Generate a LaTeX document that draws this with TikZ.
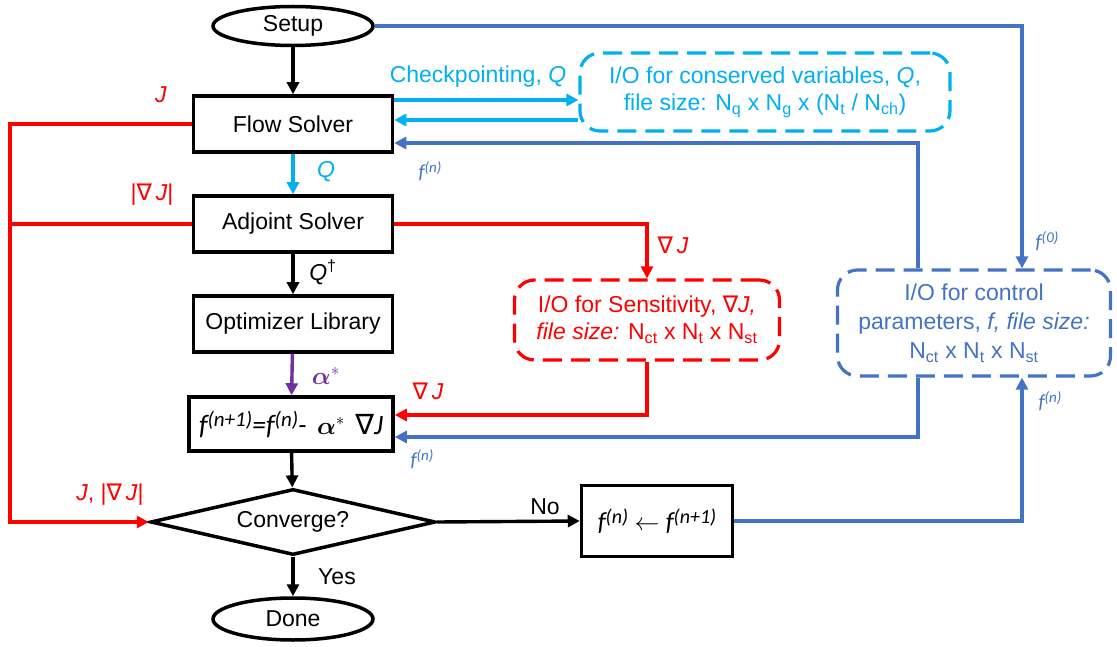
\documentclass[tikz,border=0pt]{standalone}
\usepackage{fontspec}
\usepackage{bm}
\setmainfont{Liberation Sans}
\newfontfamily\carl{Carlito}
\newfontfamily\dvs{DejaVu Sans}
\usetikzlibrary{shapes.geometric,arrows.meta}
\definecolor{cy}{HTML}{00B0F0}
\definecolor{bl}{HTML}{4472C4}
\definecolor{pu}{HTML}{7030A0}
\definecolor{rd}{HTML}{FF0000}
\newcommand\fs{\fontsize{23}{27}\selectfont}
\newcommand\nab{{\dvs\itshape ∇}}
\newcommand\sbs[1]{\textsubscript{#1}}
% \ffn{main size}{sup size}{raise}{sup text}
\newcommand\ffn[4]{{\carl\itshape\fontsize{#1}{#1}\selectfont f\raisebox{#3}{\fontsize{#2}{#2}\selectfont (#4)}}}
\newcommand\fsup[1]{\ffn{20}{15}{6pt}{#1}}
\begin{document}
\begin{tikzpicture}[x=1pt,y=-1pt,
  box/.style={draw, line width=3.5pt, minimum width=199pt, minimum height=56pt, inner sep=0pt, font=\fs},
  ell/.style={ellipse, draw, line width=3.5pt, minimum width=160pt, minimum height=39pt, inner sep=0pt, font=\fs},
  dbox/.style={draw, line width=3.2pt, dash pattern=on 19pt off 9pt, rounded corners=20pt, align=center, inner sep=0pt, font=\fs},
  arr/.style={line width=3.4pt, -{Triangle[length=12pt,width=12pt]}},
  ln/.style={line width=3.4pt},
  lab/.style={font=\fs, inner sep=0pt},
  slab/.style={inner sep=0pt, text=bl}]
\useasboundingbox (0,0) rectangle (1117,647);
% nodes
\node[ell] (setup) at (293,26) {Setup};
\node[box] (flow) at (293,124) {Flow Solver};
\node[box] (adj) at (293,224) {Adjoint Solver};
\node[box] (opt) at (293,324) {Optimizer Library};
\node[box, minimum width=204pt, minimum height=54pt] (upd) at (291,424)
  {\ffn{28}{21}{8pt}{n+1}{\carl\itshape\fontsize{28}{30}\selectfont =}\ffn{28}{21}{8pt}{n}{\carl\itshape\fontsize{28}{30}\selectfont -}\ \,$\bm{\alpha}^*$\ \,{\carl\fontsize{28}{30}\selectfont{\dvs\itshape ∇}\itshape J}};
\node[diamond, aspect=4.3, draw, line width=3.5pt, minimum width=285pt, minimum height=66pt, inner sep=0pt, font=\fs] (conv) at (293,522) {Converge?};
\node[ell, minimum height=42pt] (done) at (293,619) {Done};
\node[box, minimum width=151pt, minimum height=71pt] (upd2) at (657,521)
  {\ffn{26}{20}{7pt}{n} $\leftarrow$ \ffn{26}{20}{7pt}{n+1}};
\node[dbox, draw=cy, text=cy, minimum width=370pt, minimum height=78pt] (ck) at (765,92)
  {I/O for conserved variables, \textit{Q},\\file size: N\sbs{q} x N\sbs{g} x (N\sbs{t} / N\sbs{ch})};
\node[dbox, draw=rd, text=rd, minimum width=265pt, minimum height=80pt] (sens) at (647,320)
  {I/O for Sensitivity, \textit{\nab J,}\\\textit{file size:} N\sbs{ct} x N\sbs{t} x N\sbs{st}};
\node[dbox, draw=bl, text=bl, minimum width=273pt, minimum height=106pt, font=\fontsize{23}{29}\selectfont] (ctrl) at (974,323)
  {I/O for control\\parameters, \textit{f, file size:}\\N\sbs{ct} x N\sbs{t} x N\sbs{st}};
% helper coordinates
\coordinate (redx) at (10,0);
\coordinate (c1) at ([yshift=24pt]flow.east);
\coordinate (c3) at ([yshift=-28pt]ck.west);
\coordinate (bn) at ([xshift=-56pt]ctrl.north);
\coordinate (bs) at ([xshift=-56pt]ctrl.south);
\coordinate (fn) at ([xshift=48pt]ctrl.north);
\coordinate (fs) at ([xshift=48pt]ctrl.south);
% black flow
\draw[arr] (setup) -- (flow);
\draw[arr] (adj) -- (opt);
\draw[arr] (upd) -- (conv);
\draw[arr] (conv) -- (done);
\draw[arr] (conv.east) -- (upd2.west);
% cyan
\draw[arr, cy] (c1) -- (c1 -| ck.west);
\draw[arr, cy] (c3) -- (c3 -| flow.east);
\draw[arr, cy] (flow) -- (adj);
% purple
\draw[arr, pu] (opt) -- (upd);
% red
\draw[arr, rd] (flow.west) -- (flow.west -| redx) |- (conv.west);
\draw[ln, rd] (adj.west) -- (adj.west -| redx);
\draw[arr, rd] (adj.east) -| (sens.north);
\draw[arr, rd] (sens.south) |- ([yshift=9pt]upd.east);
% blue
\draw[arr, bl] (setup.east) -| (fn);
\draw[arr, bl] (bn) |- ([yshift=-19pt]flow.east);
\draw[arr, bl] (bs) |- ([yshift=-13pt]upd.east);
\draw[arr, bl] (upd2.east) -| (fs);
% labels
\node[lab, text=cy] (lck) at (478,77) {Checkpointing, \textit{Q}};
\node[lab, text=cy] (lq) at (326,172) {\textit{Q}};
\node[lab] (lqd) at (323,272) {\textit{Q}\textsuperscript{†}};
\node[lab, text=pu] (lal) at (326,376) {$\bm{\alpha}^*$};
\node[lab, text=rd] (lj) at (161,95) {\textit{J}};
\node[lab, text=rd] (lgj) at (152,195) {|\nab\,\textit{J}|};
\node[lab, text=rd] (lgj2) at (673,245) {\nab\,\textit{J}};
\node[lab, text=rd] (lgj3) at (428,391) {\nab\,\textit{J}};
\node[lab, text=rd] (ljgj) at (110,495) {\textit{J}, |\nab\,\textit{J}|};
\node[lab] (lno) at (545,507) {No};
\node[lab] (lyes) at (337,577) {Yes};
\node[slab] (lf1) at (430,171) {\fsup{n}};
\node[slab] (lf0) at (1047,241) {\fsup{0}};
\node[slab] (lf2) at (422,459) {\fsup{n}};
\node[slab] (lf3) at (1050,401) {\fsup{n}};
\end{tikzpicture}
\end{document}
